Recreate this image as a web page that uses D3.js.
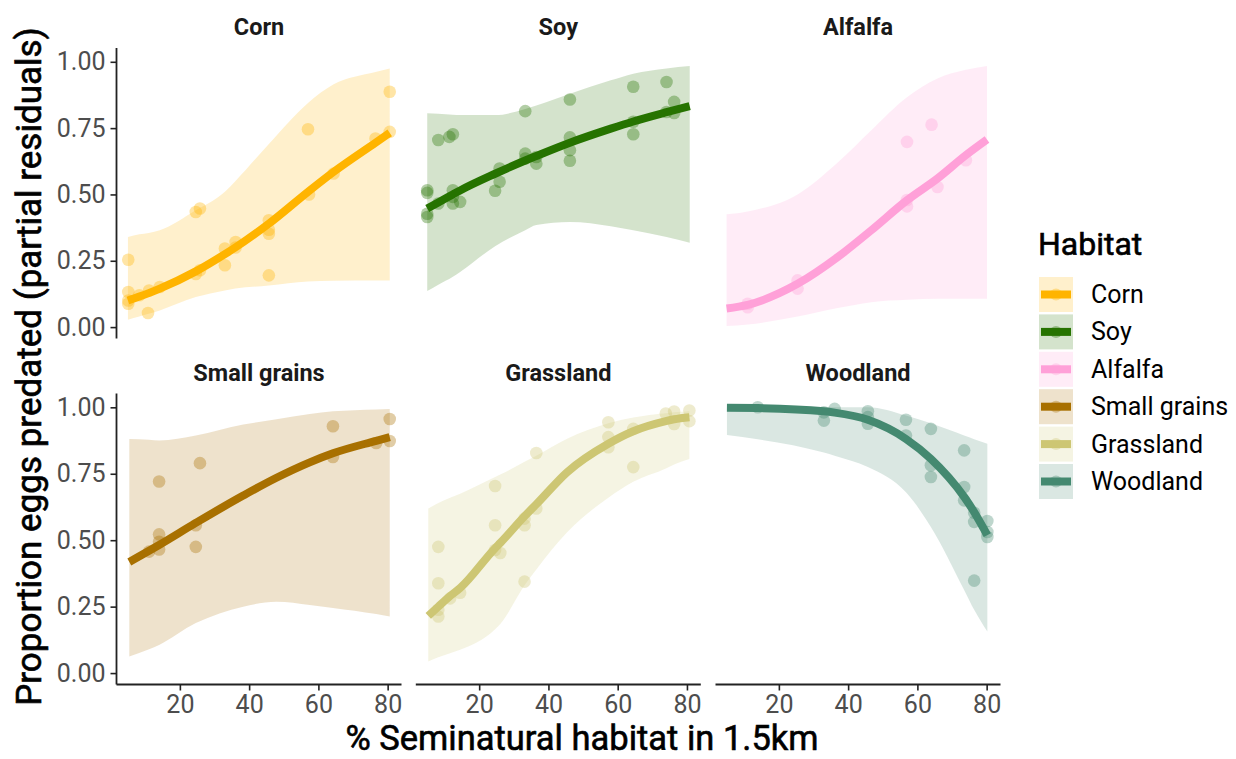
<!DOCTYPE html>
<html><head><meta charset="utf-8">
<script src="https://cdn.jsdelivr.net/npm/d3@7"></script>
<style>body{margin:0;background:#fff;} svg{display:block;font-family:Roboto,"Noto Sans",sans-serif;}</style>
</head><body>
<svg id="c" width="1236" height="759"></svg>
<script>
const habitats = ["Corn","Soy","Alfalfa","Small grains","Grassland","Woodland"];
const colors = ["#FFB400","#267300","#FFA0D8","#A87000","#CDC673","#448970"];
const xTicks = [20,40,60,80];
const yTicks = [0,0.25,0.5,0.75,1];
const yTickLabels = ["0.00","0.25","0.50","0.75","1.00"];

// Corn
const cornPtsX = [5.1,5.1,5.1,5.1,8.3,10.8,11.1,14.2,24.6,25.8,24.6,25.8,33,33,36.1,36.1,45.7,45.7,45.7,45.7,57,57.3,64.4,76.5,80.6,80.6];
const cornPtsY = [0.254,0.132,0.088,0.10,0.12,0.053,0.138,0.151,0.434,0.447,0.20,0.214,0.296,0.233,0.321,0.30,0.403,0.367,0.352,0.195,0.746,0.50,0.579,0.711,0.887,0.736];
const cornFitX = [5,8.3,11,14.2,24.6,33,36,45.7,57,64.4,76.5,80.6];
const cornFit  = [0.10,0.115,0.128,0.145,0.21,0.275,0.30,0.39,0.51,0.585,0.695,0.732];
const cornLo   = [0.028,0.04,0.05,0.063,0.113,0.138,0.145,0.157,0.172,0.175,0.176,0.176];
const cornHi   = [0.34,0.35,0.355,0.365,0.44,0.51,0.55,0.69,0.845,0.915,0.962,0.975];
// Soy
const soyPtsX = [5,5,5,5,8.2,11.4,12.4,8.2,12.4,12.4,12.4,14.5,25.9,24.6,25.9,33.3,33.3,33.3,36.5,36.5,46.2,46.2,46.2,46.2,64.5,64.5,64.5,74.1,74.1,76.3,76.3];
const soyPtsY = [0.516,0.506,0.427,0.415,0.705,0.717,0.727,0.466,0.516,0.491,0.466,0.472,0.598,0.514,0.548,0.814,0.654,0.635,0.641,0.616,0.858,0.715,0.667,0.627,0.906,0.774,0.727,0.924,0.811,0.849,0.807];
const soyFitX = [5,8.2,12.4,14.5,24.6,33.3,36.5,46.2,58,64.5,74.1,80.8];
const soyFit  = [0.447,0.47,0.50,0.515,0.578,0.628,0.645,0.695,0.748,0.775,0.81,0.833];
const soyLo   = [0.136,0.16,0.19,0.208,0.305,0.365,0.385,0.396,0.38,0.365,0.34,0.318];
const soyHi   = [0.806,0.804,0.80,0.799,0.799,0.822,0.835,0.88,0.93,0.955,0.975,0.984];
// Alfalfa
const alfalfaPtsX = [11,11,25.4,25.4,57,57,57,64.1,65.8,74];
const alfalfaPtsY = [0.088,0.075,0.176,0.145,0.698,0.479,0.455,0.763,0.528,0.629];
const alfalfaFitX = [4.9,11,25.4,37,46.7,57,65.8,74,80.1];
const alfalfaFit  = [0.07,0.084,0.163,0.264,0.365,0.478,0.56,0.648,0.707];
const alfalfaLo   = [0.004,0.01,0.04,0.072,0.094,0.103,0.107,0.107,0.107];
const alfalfaHi   = [0.425,0.436,0.50,0.62,0.742,0.866,0.937,0.97,0.984];
// Small grains
const grainsPtsX = [14,14,14,14,11.1,25.8,24.6,24.6,64.2,64.2,76.7,80.6,80.6];
const grainsPtsY = [0.721,0.522,0.494,0.465,0.457,0.79,0.475,0.556,0.929,0.813,0.866,0.956,0.873];
const grainsFitX = [5.4,11.1,14,24.6,38.3,47.9,57.5,64.2,76.7,80.6];
const grainsFit  = [0.418,0.46,0.482,0.565,0.668,0.735,0.793,0.827,0.874,0.888];
const grainsLo   = [0.062,0.09,0.106,0.188,0.25,0.268,0.256,0.245,0.222,0.213];
const grainsHi   = [0.881,0.878,0.875,0.894,0.935,0.955,0.975,0.985,0.992,0.994];
// Grassland
const grassPtsX = [8.2,8.2,8.2,8.2,11.6,14.5,24.6,24.6,24.6,26.1,33.1,33.1,33.1,36.5,36.5,57.3,57.3,57.3,64.5,64.5,73.9,76.3,76.3,80.7,80.7];
const grassPtsY = [0.475,0.338,0.238,0.213,0.281,0.302,0.704,0.556,0.463,0.452,0.344,0.556,0.581,0.828,0.619,0.944,0.888,0.85,0.775,0.919,0.977,0.984,0.937,0.988,0.948];
const grassFitX = [5.3,8.2,11.6,14.5,24.6,26.1,33.1,36.5,45.4,57.3,64.5,73.9,76.3,80.7];
const grassFit  = [0.215,0.25,0.29,0.32,0.47,0.49,0.59,0.635,0.756,0.863,0.91,0.948,0.955,0.963];
const grassLo   = [0.044,0.06,0.075,0.088,0.165,0.185,0.33,0.39,0.53,0.66,0.72,0.77,0.785,0.806];
const grassHi   = [0.619,0.64,0.66,0.675,0.738,0.747,0.795,0.818,0.882,0.94,0.962,0.978,0.981,0.985];
// Woodland
const woodPtsX = [13.9,33,33,36.1,45.7,45.7,45.7,56.7,56.7,63.9,63.9,63.9,73.5,73.5,73.5,76.4,76.4,76.4,80.2,80.2,80.2];
const woodPtsY = [1.0,0.95,0.981,0.994,0.985,0.938,0.963,0.953,0.894,0.919,0.782,0.738,0.838,0.70,0.65,0.603,0.569,0.348,0.572,0.531,0.512];
const woodFitX = [5,13.9,33,36.1,45.7,56.7,63.9,73.5,76.4,80.2];
const woodFit  = [0.998,0.997,0.985,0.98,0.953,0.881,0.806,0.663,0.606,0.519];
const woodLo   = [0.896,0.88,0.83,0.818,0.775,0.68,0.55,0.313,0.238,0.156];
const woodHi   = [1.0,1.0,1.0,1.0,1.0,0.969,0.94,0.894,0.88,0.863];

const series = [
  {px:cornPtsX,py:cornPtsY,fx:cornFitX,f:cornFit,lo:cornLo,hi:cornHi},
  {px:soyPtsX,py:soyPtsY,fx:soyFitX,f:soyFit,lo:soyLo,hi:soyHi},
  {px:alfalfaPtsX,py:alfalfaPtsY,fx:alfalfaFitX,f:alfalfaFit,lo:alfalfaLo,hi:alfalfaHi},
  {px:grainsPtsX,py:grainsPtsY,fx:grainsFitX,f:grainsFit,lo:grainsLo,hi:grainsHi},
  {px:grassPtsX,py:grassPtsY,fx:grassFitX,f:grassFit,lo:grassLo,hi:grassHi},
  {px:woodPtsX,py:woodPtsY,fx:woodFitX,f:woodFit,lo:woodLo,hi:woodHi}
];

const svg = d3.select("#c");
const panelW = 285;
const colX = [116.5, 415.8, 715.5];
const rowY = [[48,338.5],[393.5,684.5]];
const xDomain = [1.7, 84.0];
const yDomain = [-0.043, 1.052];
const axisCol = "#222";
const tickTextCol = "#4D4D4D";

habitats.forEach((h,i)=>{
  const c = i%3, r = Math.floor(i/3);
  const x = d3.scaleLinear().domain(xDomain).range([colX[c], colX[c]+panelW]);
  const y = d3.scaleLinear().domain(yDomain).range([rowY[r][1], rowY[r][0]]);
  const s = series[i];
  const col = colors[i];
  const g = svg.append("g");
  const fit = s.fx.map((xx,k)=>({x:xx,f:s.f[k],lo:s.lo[k],hi:s.hi[k]}));
  g.append("path").datum(fit)
    .attr("d", d3.area().x(d=>x(d.x)).y0(d=>y(d.lo)).y1(d=>y(d.hi)).curve(d3.curveMonotoneX))
    .attr("fill", col).attr("fill-opacity",0.2);
  const pts = s.px.map((xx,k)=>({x:xx,y:s.py[k]}));
  g.selectAll("circle").data(pts).join("circle")
    .attr("cx",d=>x(d.x)).attr("cy",d=>y(d.y)).attr("r",6.3)
    .attr("fill",col).attr("fill-opacity",0.35);
  g.append("path").datum(fit)
    .attr("d", d3.line().x(d=>x(d.x)).y(d=>y(d.f)).curve(d3.curveMonotoneX))
    .attr("fill","none").attr("stroke",col).attr("stroke-width",8);
  // strip title
  svg.append("text").attr("x", colX[c]+panelW/2).attr("y", r===0?35:381)
    .attr("text-anchor","middle").attr("font-weight","700").attr("font-size",23.5)
    .attr("fill","#1a1a1a").text(h);
  // y axis
  if(c===0){
    const ya = d3.axisLeft(y).tickValues(yTicks).tickFormat((d,k)=>yTickLabels[k]).tickSize(6).tickPadding(5);
    const ag = svg.append("g").attr("transform",`translate(${colX[c]},0)`).call(ya);
    ag.select(".domain").attr("d",`M0,${rowY[r][0]}V${rowY[r][1]}`).attr("stroke",axisCol).attr("stroke-width",1.8);
    ag.selectAll(".tick line").attr("stroke",axisCol).attr("stroke-width",1.6);
    ag.selectAll(".tick text").attr("font-size",25).attr("fill",tickTextCol).attr("font-family","Roboto");
  }
  if(r===1){
    const xa = d3.axisBottom(x).tickValues(xTicks).tickSize(6).tickPadding(5);
    const ag = svg.append("g").attr("transform",`translate(0,${rowY[r][1]})`).call(xa);
    ag.select(".domain").attr("d",`M${colX[c]},0H${colX[c]+panelW}`).attr("stroke",axisCol).attr("stroke-width",1.8);
    ag.selectAll(".tick line").attr("stroke",axisCol).attr("stroke-width",1.6);
    ag.selectAll(".tick text").attr("font-size",25).attr("fill",tickTextCol).attr("font-family","Roboto");
  }
});

// axis titles
svg.append("text").attr("x",582).attr("y",750).attr("text-anchor","middle")
  .attr("font-size",34.5).attr("fill","#000").attr("stroke","#000").attr("stroke-width",0.6)
  .text("% Seminatural habitat in 1.5km");
svg.append("text").attr("transform","translate(41,366.5) rotate(-90)").attr("text-anchor","middle")
  .attr("font-size",35).attr("fill","#000").attr("stroke","#000").attr("stroke-width",0.6)
  .text("Proportion eggs predated (partial residuals)");

// legend
svg.append("text").attr("x",1038).attr("y",255).attr("font-size",32).attr("fill","#000")
  .attr("stroke","#000").attr("stroke-width",0.6).text("Habitat");
habitats.forEach((h,i)=>{
  const ky = 277 + i*37.4;
  const lg = svg.append("g");
  lg.append("rect").attr("x",1039).attr("y",ky).attr("width",34).attr("height",35)
    .attr("fill",colors[i]).attr("fill-opacity",0.2);
  lg.append("circle").attr("cx",1056).attr("cy",ky+17.5).attr("r",6).attr("fill",colors[i]).attr("fill-opacity",0.35);
  lg.append("line").attr("x1",1041).attr("x2",1071).attr("y1",ky+17.5).attr("y2",ky+17.5)
    .attr("stroke",colors[i]).attr("stroke-width",8);
  lg.append("text").attr("x",1091).attr("y",ky+26).attr("font-size",25).attr("fill","#000").text(h);
});
</script>
</body></html>
